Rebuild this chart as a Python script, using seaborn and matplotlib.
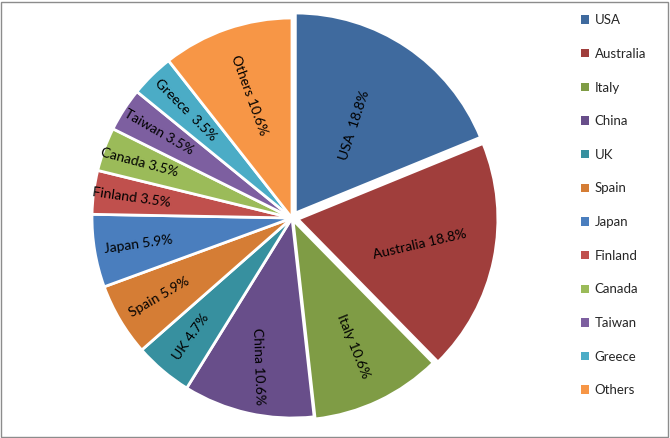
import numpy as np
import matplotlib
matplotlib.use('Agg')
import matplotlib.pyplot as plt
from matplotlib.patches import Rectangle, Patch
import seaborn as sns

sns.set_theme(style='white')
plt.rcParams['font.family'] = ['Lato', 'DejaVu Sans']

# Data
countries = ['USA', 'Australia', 'Italy', 'China', 'UK', 'Spain', 'Japan',
             'Finland', 'Canada', 'Taiwan', 'Greece', 'Others']
counts = [16, 16, 9, 9, 4, 5, 5, 3, 3, 3, 3, 9]

# Styling
colors = ['#3f6a9e', '#a03e3c', '#7f9c45', '#684e8a', '#37909f', '#d57d35',
          '#4a7ebe', '#c0504d', '#9bbb59', '#7d5fa0', '#4bacc6', '#f79646']
explode = [0.03, 0.03, 0.012, 0, 0, 0, 0, 0, 0, 0, 0, 0]
label_rot = [72, 13, -68, -88, 55, 30, 8, -8, -15, -30, -45, -70]
label_r = [0.53, 0.62, 0.70, 0.76, 0.78, 0.77, 0.78, 0.81, 0.81, 0.79, 0.76, 0.65]
double_space = {'USA', 'Greece'}

total = sum(counts)

fig = plt.figure(figsize=(6.7, 4.38), dpi=100)
cx, cy, rpx = 292, 218, 200
half = rpx * 1.025
ax = fig.add_axes([(cx - half) / 670, (438 - cy - half) / 438, 2 * half / 670, 2 * half / 438])

wedges, _ = ax.pie(counts, colors=sns.color_palette(colors), startangle=90,
                   counterclock=False, explode=explode,
                   wedgeprops=dict(edgecolor='white', linewidth=2))
ax.set_xlim(-1.025, 1.025)
ax.set_ylim(-1.025, 1.025)
ax.set_aspect('equal')
ax.axis('off')

for w, name, c, rot, fr in zip(wedges, countries, counts, label_rot, label_r):
    mid = np.deg2rad((w.theta1 + w.theta2) / 2)
    x = w.center[0] + fr * w.r * np.cos(mid)
    y = w.center[1] + fr * w.r * np.sin(mid)
    sep = '  ' if name in double_space else ' '
    ax.text(x, y, f'{name}{sep}{c / total * 100:.1f}%', rotation=rot,
            rotation_mode='anchor', ha='center', va='center',
            fontsize=10, color='black')

handles = [Patch(facecolor=col, edgecolor='none') for col in colors]
fig.legend(handles, countries, loc='upper left', bbox_to_anchor=(576 / 670, 1 - 9 / 438),
           frameon=False, fontsize=9.5, handlelength=0.6, handleheight=0.6,
           handletextpad=0.4, labelspacing=1.64, borderaxespad=0)

fig.add_artist(Rectangle((0.002, 0.003), 0.995, 0.993, transform=fig.transFigure,
                         fill=False, edgecolor='#8c8c8c', linewidth=1))

fig.savefig('out.png', dpi=100)
